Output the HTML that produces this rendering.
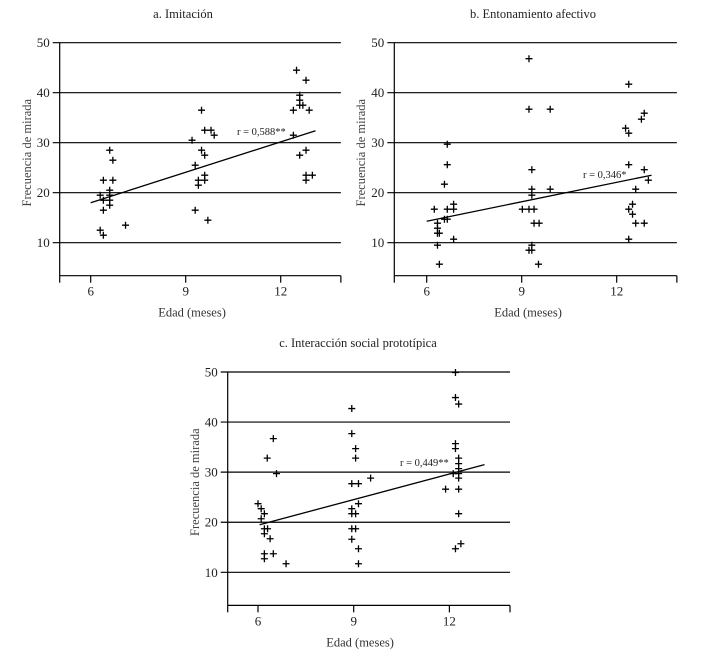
<!DOCTYPE html>
<html><head><meta charset="utf-8"><style>
body{margin:0;background:#fff;width:709px;height:655px;overflow:hidden}
svg{display:block;font-family:"Liberation Serif",serif}
</style></head><body>
<svg id="c" width="709" height="655"></svg>
<script>
const xTicks=[6,9,12];
const yTicks=[10,20,30,40,50];
const titleA="a. Imitación", titleB="b. Entonamiento afectivo", titleC="c. Interacción social prototípica";
const ageA=[6.3,6.4,6.4,6.4,6.3,6.4,6.6,6.6,6.6,6.6,6.6,6.7,6.7,7.1,9.2,9.3,9.4,9.4,9.3,9.5,9.5,9.6,9.6,9.6,9.6,9.8,9.9,9.7,12.4,12.5,12.4,12.6,12.6,12.6,12.7,12.8,12.9,12.6,12.8,12.8,12.8,13.0];
const gazeA=[19.5,18.5,22.5,16.5,12.5,11.5,20.5,19.5,18.5,17.5,28.5,26.5,22.5,13.5,30.5,25.5,22.5,21.5,16.5,36.5,28.5,27.5,32.5,23.5,22.5,32.5,31.5,14.5,36.5,44.5,31.5,39.5,38.5,37.5,37.5,42.5,36.5,27.5,28.5,23.5,22.5,23.5];
const fitA=[[6,18],[13.1,32.4]];
const ageB=[6.24,6.34,6.34,6.34,6.4,6.34,6.4,6.56,6.65,6.65,6.56,6.65,6.65,6.85,6.85,6.85,9.23,9.23,9.9,9.32,9.32,9.32,9.9,9.02,9.23,9.39,9.39,9.55,9.32,9.23,9.32,9.53,12.38,12.28,12.38,12.78,12.87,12.38,12.87,13.0,12.6,12.5,12.38,12.5,12.6,12.87,12.38];
const gazeB=[16.7,13.9,12.9,11.9,11.9,9.5,5.7,21.7,29.7,25.6,14.7,14.7,16.7,17.7,16.7,10.7,46.8,36.7,36.7,24.6,20.7,19.5,20.7,16.7,16.7,16.7,13.9,13.9,9.5,8.5,8.5,5.7,41.7,32.9,31.9,34.7,35.9,25.6,24.6,22.5,20.7,17.7,16.7,15.7,13.9,13.9,10.7];
const fitB=[[6,14.3],[13.1,23.5]];
const ageC=[6.0,6.1,6.2,6.1,6.2,6.3,6.2,6.38,6.2,6.2,6.48,6.29,6.48,6.58,6.88,8.94,8.94,9.06,9.06,8.94,9.15,9.53,9.15,8.94,8.94,9.06,8.94,9.06,8.94,9.15,9.15,12.19,12.19,12.29,12.19,12.19,12.29,12.29,12.29,12.29,12.29,12.12,11.88,12.29,12.29,12.19,12.36];
const gazeC=[23.7,22.7,21.7,20.7,18.7,18.7,17.7,16.7,13.7,12.7,13.7,32.8,36.7,29.7,11.7,42.7,37.7,34.7,32.8,27.7,27.7,28.8,23.7,22.7,21.7,21.7,18.7,18.7,16.6,14.7,11.7,49.9,44.9,43.6,35.7,34.7,32.8,31.7,30.7,29.7,28.8,29.7,26.6,26.6,21.7,14.7,15.7];
const fitC=[[6.05,19.5],[13.1,31.5]];
const rA="r = 0,588**", rB="r = 0,346*", rC="r = 0,449**";

const NS="http://www.w3.org/2000/svg";
const svg=document.getElementById('c');
function mk(tag,attrs,parent,text){const e=document.createElementNS(NS,tag);for(const k in attrs)e.setAttribute(k,attrs[k]);if(text!==undefined)e.textContent=text;(parent||svg).appendChild(e);return e;}

function panel(id,o,title,ages,gazes,fit,rlab,rx,ry){
  const g=mk('g',{});
  
  
  const X=v=>o.x6+(v-6)*o.px/3;
  const Y=v=>o.y50+(50-v)*o.py/40;
  const xAxisY=Y(3.4), xRight=X(13.9), xLeft=o.ax;
  const t=mk('text',{x:o.tx,y:o.ty,'text-anchor':'middle','font-size':'12.5',fill:'#222'},g,title);
  
  
  yTicks.forEach(v=>{
    const l=mk('line',{x1:xLeft-7,x2:xRight,y1:Y(v),y2:Y(v),stroke:'#000','stroke-width':1.2},g);
    
    
    const tl=mk('text',{x:xLeft-10,y:Y(v)+4.5,'text-anchor':'end','font-size':'13',fill:'#222'},g,String(v));
    
    
  });
  const ya=mk('line',{x1:xLeft,x2:xLeft,y1:Y(50),y2:xAxisY,stroke:'#000','stroke-width':1.2},g);
  
  
  const xa=mk('line',{x1:xLeft,x2:xRight,y1:xAxisY,y2:xAxisY,stroke:'#000','stroke-width':1.2},g);
  
  
  [xLeft,xRight].forEach(xx=>{mk('line',{x1:xx,x2:xx,y1:xAxisY,y2:xAxisY+7,stroke:'#000','stroke-width':1.2},g);});
  xTicks.forEach(v=>{
    mk('line',{x1:X(v),x2:X(v),y1:xAxisY,y2:xAxisY+7,stroke:'#000','stroke-width':1.2},g);
    const tl=mk('text',{x:X(v),y:xAxisY+20,'text-anchor':'middle','font-size':'13',fill:'#222'},g,String(v));
    
    
  });
  const xt=mk('text',{x:X(9.2),y:xAxisY+41,'text-anchor':'middle','font-size':'12.5',fill:'#333'},g,'Edad (meses)');
  
  
  const cy=Y(28);
  const yt=mk('text',{x:o.ylx,y:cy,'text-anchor':'middle','font-size':'12.5',fill:'#444',transform:`rotate(-90 ${o.ylx} ${cy})`},g,'Frecuencia de mirada');
  
  
  ages.forEach((a,i)=>{
    const px=X(a),py=Y(gazes[i]);
    const p=mk('path',{d:`M${px-3.5},${py}H${px+3.5}M${px},${py-3.5}V${py+3.5}`,stroke:'#000','stroke-width':1.3,fill:'none'},g);
    
    
  });
  const fl=mk('line',{x1:X(fit[0][0]),y1:Y(fit[0][1]),x2:X(fit[1][0]),y2:Y(fit[1][1]),stroke:'#000','stroke-width':1.3},g);
  
  
  const rl=mk('text',{x:rx,y:ry,'font-size':'10.5',fill:'#222'},g,rlab);
  
  
}
panel('a',{ax:59.7,x6:90.7,px:95,y50:42.7,py:200,tx:183,ty:18,ylx:31},titleA,ageA,gazeA,fitA,rA,237,135);
panel('b',{ax:394.3,x6:426.7,px:95,y50:42.7,py:200,tx:533,ty:18,ylx:365},titleB,ageB,gazeB,fitB,rB,583,178);
panel('c',{ax:227.7,x6:258,px:95.7,y50:372,py:200.3,tx:358,ty:347,ylx:199},titleC,ageC,gazeC,fitC,rC,400,466);
</script>
</body></html>
